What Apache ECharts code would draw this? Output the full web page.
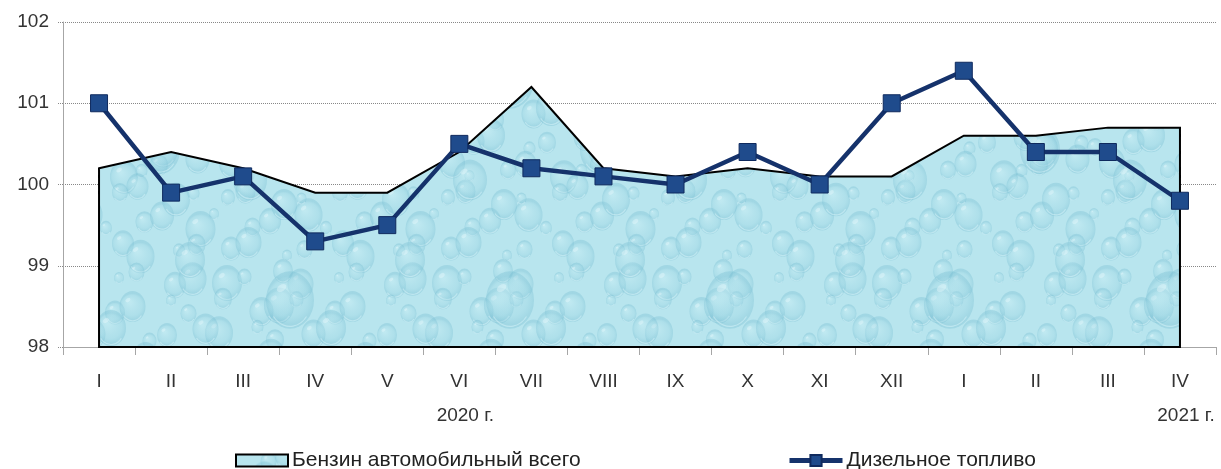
<!DOCTYPE html>
<html>
<head>
<meta charset="utf-8">
<script src="https://cdn.jsdelivr.net/npm/echarts@6/dist/echarts.min.js"></script>
<style>
html,body{margin:0;padding:0;background:#fff;}
#chart{width:1221px;height:469px;}
</style>
</head>
<body>
<div id="chart"></div>
<script>
// ---- data ----
const months = ['I','II','III','IV','V','VI','VII','VIII','IX','X','XI','XII','I','II','III','IV'];
const yearLabels = ['','','','','','2020 г.','','','','','','','','','','2021 г.'];
const benzin = [100.2,100.4,100.2,99.9,99.9,100.4,101.2,100.2,100.1,100.2,100.1,100.1,100.6,100.6,100.7,100.7];
const diesel = [101.0,99.9,100.1,99.3,99.5,100.5,100.2,100.1,100.0,100.4,100.0,101.0,101.4,100.4,100.4,99.8];
const seriesNames = ['Бензин автомобильный всего','Дизельное топливо'];
const yMin = 98, yMax = 102, yStep = 1;

// ---- water-drop texture (decorative) ----
function makeTexture(){
  const W = 220, H = 220;
  const c = document.createElement('canvas');
  c.width = W; c.height = H;
  const g = c.getContext('2d');
  g.fillStyle = '#b8e5ee';
  g.fillRect(0,0,W,H);
  const drops = [];
  for (let r = 0; r < 8; r++) {
    for (let k = 0; k < 8; k++) {
      const x = k*27.5 + ((r*17 + k*11) % 21) - 6;
      const y = r*27.5 + ((k*13 + r*7) % 19) - 6;
      const rad = 5 + ((r*5 + k*3) % 11);
      drops.push([x,y,rad]);
    }
  }
  drops.push([70,80,24],[160,150,20],[30,180,17],[190,40,15]);
  for (const [x,y,rad] of drops) {
    for (const dx of [-W,0,W]) for (const dy of [-H,0,H]) {
      const cx = x+dx, cy = y+dy;
      if (cx < -rad*2 || cx > W+rad*2 || cy < -rad*2 || cy > H+rad*2) continue;
      const grd = g.createRadialGradient(cx - rad*0.25, cy - rad*0.35, rad*0.1, cx, cy, rad);
      grd.addColorStop(0,'rgba(205,240,246,0.35)');
      grd.addColorStop(0.75,'rgba(150,210,225,0.28)');
      grd.addColorStop(1,'rgba(120,190,210,0.36)');
      g.fillStyle = grd;
      g.beginPath();
      g.ellipse(cx, cy, rad, rad*1.2, 0, 0, Math.PI*2);
      g.fill();
      g.strokeStyle = 'rgba(225,248,252,0.45)';
      g.lineWidth = 1.2;
      g.beginPath();
      g.ellipse(cx, cy + rad*0.1, rad*0.85, rad*1.0, 0, 0.2*Math.PI, 0.8*Math.PI);
      g.stroke();
      g.fillStyle = 'rgba(240,252,255,0.35)';
      g.beginPath();
      g.ellipse(cx - rad*0.35, cy - rad*0.5, rad*0.22, rad*0.14, -0.6, 0, Math.PI*2);
      g.fill();
    }
  }
  return c;
}
const pattern = { image: makeTexture(), repeat: 'repeat' };

const chart = echarts.init(document.getElementById('chart'));
const font = 'Liberation Sans, Arial, sans-serif';
chart.setOption({
  animation: false,
  backgroundColor: '#fff',
  grid: { left: 63, right: 5, top: 22, bottom: 122, containLabel: false },
  xAxis: [{
    type: 'category', data: months, boundaryGap: true,
    axisLine: { lineStyle: { color: '#a6a6a6', width: 1 } },
    axisTick: { show: true, length: 8, lineStyle: { color: '#a6a6a6' } },
    axisLabel: { interval: 0, fontSize: 19, color: '#333', margin: 25, fontFamily: font }
  },{
    type: 'category', data: yearLabels, boundaryGap: true, position: 'bottom', offset: 51,
    axisLine: { show: false }, axisTick: { show: false },
    axisLabel: { interval: 0, fontSize: 19, color: '#333', fontFamily: font, padding: [0,0,0,12] }
  }],
  yAxis: {
    type: 'value', min: yMin, max: yMax, interval: yStep,
    axisLine: { show: true, lineStyle: { color: '#a6a6a6' } },
    axisTick: { show: true, length: 6, lineStyle: { color: '#888', type: 'dotted' } },
    axisLabel: { fontSize: 19, color: '#333', margin: 14, fontFamily: font },
    splitLine: { show: true, lineStyle: { color: '#888', type: 'dotted', width: 1 } }
  },
  legend: [{
    data: [seriesNames[0]], left: 235, top: 450, padding: 0,
    icon: 'rect', itemWidth: 52, itemHeight: 12, itemGap: 4,
    itemStyle: { color: pattern, borderColor: '#000', borderWidth: 2 },
    textStyle: { fontSize: 21, color: '#222', fontFamily: font, padding: [0,0,0,-1] }
  },{
    data: [seriesNames[1]], left: 787, top: 450, padding: 0,
    itemWidth: 53, itemHeight: 14, itemGap: 4,
    lineStyle: { width: 5, color: '#15326b' },
    textStyle: { fontSize: 21, color: '#222', fontFamily: font, padding: [0,0,0,-1] }
  }],
  series: [{
    name: seriesNames[0], type: 'custom', z: 1,
    data: benzin.map((v,i) => [i, v]),
    encode: { x: 0, y: 1 },
    renderItem: function(params, api){
      if (params.dataIndex !== 0) return null;
      const pts = benzin.map((v,i) => api.coord([i, v]));
      pts.push(api.coord([benzin.length - 1, yMin]));
      pts.push(api.coord([0, yMin]));
      return { type: 'polygon', shape: { points: pts },
        style: { fill: pattern, stroke: '#000', lineWidth: 2, lineJoin: 'miter' } };
    }
  },{
    name: seriesNames[1], type: 'line', z: 3,
    data: diesel,
    symbol: 'rect', symbolSize: 17,
    lineStyle: { color: '#15326b', width: 4.5 },
    itemStyle: { color: '#1f4b8c', borderColor: '#0f2a5e', borderWidth: 1 }
  }]
});
</script>
</body>
</html>
